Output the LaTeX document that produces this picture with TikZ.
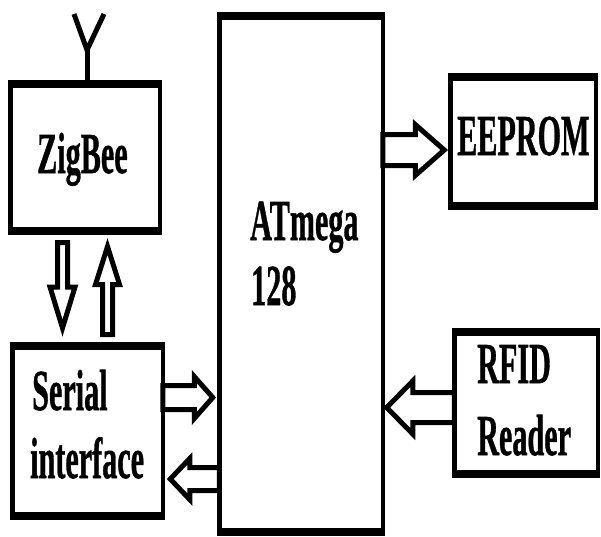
\documentclass[tikz,border=0pt]{standalone}
\usepackage{fontspec}
\setmainfont{Liberation Serif}[BoldFeatures={FakeBold=1}]
\usepackage{graphicx}
\usetikzlibrary{calc}
\newcommand\blockarrow[5]{%
  \coordinate (ba-c) at ($(#2)!#5!(#1)$);
  \draw[barrow] ($(#1)!#3!90:(#2)$) -- ($(ba-c)!#3!90:(#2)$) -- ($(ba-c)!#4!90:(#2)$) -- (#2)
    -- ($(ba-c)!#4!-90:(#2)$) -- ($(ba-c)!#3!-90:(#2)$) -- ($(#1)!#3!-90:(#2)$) -- cycle;
}
\newcommand\lbl[1]{\scalebox{0.52}[1]{\fontsize{58}{60}\selectfont\bfseries #1}}
\tikzset{
  box/.style={draw, line width=4.5pt, inner sep=0pt, outer sep=0pt, fill=white},
  hedge/.style={line width=8pt, shorten <=-2.25pt, shorten >=-2.25pt},
  barrow/.style={draw, line width=5pt, line join=miter, fill=white},
  ant/.style={line width=5pt},
  txt/.style={anchor=base west, inner sep=0pt}
}
\begin{document}
\begin{tikzpicture}[x=1pt, y=-1pt]
\useasboundingbox (0,0) rectangle (601,536);
% boxes
\node[box, minimum width=149.5pt, minimum height=147pt] (zig) at (85,157.5) {};
\node[box, minimum width=150.5pt, minimum height=170pt] (ser) at (87.5,431) {};
\node[box, minimum width=163.5pt, minimum height=516pt] (atm) at (301,274) {};
\node[box, minimum width=145.5pt, minimum height=129pt] (eep) at (523,141.5) {};
\node[box, minimum width=143.5pt, minimum height=142pt] (rfid) at (526,403) {};
\foreach \b in {zig,ser,atm,eep,rfid}{
  \draw[hedge] (\b.north west) -- (\b.north east);
  \draw[hedge] (\b.south west) -- (\b.south east);
}
% antenna
\coordinate (antB) at ($(zig.north)+(2,0)$);
\coordinate (antJ) at ($(zig.north)+(2,-34)$);
\coordinate (antL) at ($(zig.north)+(-11,-70)$);
\coordinate (antR) at ($(zig.north)+(19,-70)$);
\draw[ant] (antB) -- (antJ);
\draw[ant] (antL) -- (antJ) -- (antR);
% arrow end points
\coordinate (d1s) at ($(zig.south)+(-22.5,11.5)$);
\coordinate (d1e) at ($(ser.north)+(-25,-18)$);
\coordinate (u1s) at ($(ser.north)+(20,-11.5)$);
\coordinate (u1e) at ($(zig.south)+(22.5,15.5)$);
\coordinate (r1s) at ($(ser.east)+(0,-33.5)$);
\coordinate (r1e) at ($(atm.west)+(-6.5,123.5)$);
\coordinate (l1s) at ($(atm.west)+(0,205)$);
\coordinate (l1e) at ($(ser.east)+(7.5,48)$);
\coordinate (e1s) at ($(atm.east)+(0,-124)$);
\coordinate (e1e) at ($(eep.west)+(-6,8.5)$);
\coordinate (f1s) at ($(rfid.west)+(0,4.5)$);
\coordinate (f1e) at ($(atm.east)+(4,133.5)$);
% block arrows
\blockarrow{d1s}{d1e}{5pt}{12.5pt}{41pt}
\blockarrow{u1s}{u1e}{5pt}{12pt}{38pt}
\blockarrow{r1s}{r1e}{12pt}{21pt}{18.5pt}
\blockarrow{l1s}{l1e}{11.5pt}{20.5pt}{19.5pt}
\blockarrow{e1s}{e1e}{15.5pt}{25.5pt}{29pt}
\blockarrow{f1s}{f1e}{15pt}{26.5pt}{26pt}
% labels
\node[txt] (tzig) at (37,173) {\lbl{ZigBee}};
\node[txt] (teep) at (457,155) {\lbl{EEPROM}};
\node[txt] (tatm1) at (250,240) {\lbl{ATmega}};
\node[txt] (tatm2) at (251,305) {\lbl{128}};
\node[txt] (tser1) at (32,410) {\lbl{Serial}};
\node[txt] (tser2) at (30,478) {\lbl{interface}};
\node[txt] (trf1) at (477,383) {\lbl{RFID}};
\node[txt] (trf2) at (477,455) {\lbl{Reader}};
\end{tikzpicture}
\end{document}
